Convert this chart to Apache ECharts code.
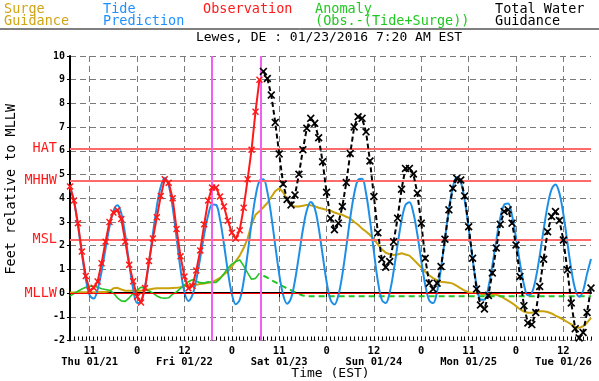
<!DOCTYPE html>
<html><head><meta charset="utf-8">
<script src="https://cdn.jsdelivr.net/npm/echarts@6/dist/echarts.min.js"></script>
<style>html,body{margin:0;padding:0;background:#fff}#c{width:599px;height:381px}</style>
</head><body><div id="c"></div>
<script>
// hours from the left edge of the plot (x = 0 .. 132)
const tideStart = 0;
const tide = [4.47,3.89,2.87,1.67,0.59,-0.10,-0.23,0.15,0.91,1.87,2.80,3.46,3.70,3.36,2.44,1.25,0.18,-0.42,-0.37,0.24,
  1.27,2.50,3.66,4.50,4.85,4.56,3.63,2.33,1.01,0.03,-0.33,-0.09,0.56,1.49,2.47,3.28,3.74,3.72,3.11,2.07,
  0.91,-0.03,-0.47,-0.28,0.50,1.66,2.96,4.07,4.73,4.80,4.27,3.26,2.01,0.80,-0.08,-0.45,-0.22,0.53,1.58,2.67,
  3.49,3.84,3.58,2.76,1.61,0.49,-0.28,-0.48,-0.09,0.78,1.95,3.17,4.18,4.78,4.82,4.21,3.09,1.74,0.50,-0.28,
  -0.42,0.03,0.93,2.04,3.06,3.72,3.83,3.38,2.48,1.37,0.35,-0.31,-0.42,0.06,1.04,2.29,3.53,4.46,4.89,4.69,
  3.91,2.73,1.44,0.35,-0.27,-0.28,0.24,1.16,2.22,3.16,3.73,3.78,3.27,2.34,1.27,0.37,-0.09,0.01,0.61,1.57,
  2.68,3.68,4.37,4.58,4.21,3.33,2.16,1.00,0.16,-0.15,0.10,0.81,1.44];
const surgeStart = 0;
const surge = [0.02,0.02,0.03,0.03,0.03,0.03,0.03,0.04,0.05,0.05,0.08,0.20,0.22,0.15,0.10,0.10,0.10,0.10,0.10,0.12,
  0.15,0.18,0.20,0.20,0.20,0.20,0.21,0.22,0.25,0.30,0.33,0.35,0.35,0.38,0.40,0.43,0.46,0.55,0.64,0.78,
  0.92,1.12,1.35,1.58,1.90,2.30,2.90,3.30,3.45,3.62,3.80,4.05,4.30,4.42,4.25,3.95,3.70,3.65,3.65,3.68,
  3.72,3.70,3.66,3.60,3.56,3.51,3.48,3.40,3.34,3.30,3.22,3.15,3.00,2.88,2.72,2.60,2.45,2.28,2.05,1.85,
  1.70,1.64,1.61,1.63,1.68,1.63,1.58,1.42,1.25,1.08,0.90,0.75,0.63,0.55,0.48,0.46,0.44,0.40,0.30,0.20,
  0.10,0.04,0.00,0.00,-0.03,-0.06,-0.07,-0.07,-0.07,-0.12,-0.22,-0.32,-0.42,-0.55,-0.68,-0.78,-0.83,-0.83,-0.78,-0.77,
  -0.77,-0.80,-0.86,-0.95,-1.03,-1.12,-1.22,-1.32,-1.43,-1.47,-1.40,-1.25,-1.05];
const obsStart = 0;
const observation = [4.50,3.90,2.95,1.75,0.72,0.10,0.22,0.49,1.26,2.17,3.00,3.40,3.50,3.12,2.17,1.19,0.50,-0.15,-0.40,0.21,
  1.35,2.30,3.20,4.10,4.80,4.65,4.00,2.70,1.55,0.70,0.20,0.30,0.95,1.80,2.90,3.90,4.45,4.45,4.07,3.65,
  3.05,2.55,2.30,2.65,3.60,4.80,6.05,7.65,9.00];
const anomalyStart = 0;
const anomaly = [-0.13,-0.02,0.08,0.17,0.25,0.28,0.30,0.25,0.18,0.15,0.12,0.00,-0.20,-0.33,-0.35,-0.20,-0.02,0.12,0.25,0.20,
  0.10,0.00,-0.12,-0.20,-0.22,-0.20,-0.05,0.05,0.20,0.35,0.48,0.56,0.50,0.44,0.42,0.48,0.45,0.45,0.60,0.82,
  1.05,1.22,1.33,1.40,1.15,0.85,0.58,0.62,0.84];
const anomalyForecast = [[49,0.73],[50,0.65],[51,0.55],[52,0.46],[53,0.37],[54,0.28],[55,0.20],[56,0.12],[57,0.04],[58,-0.04],[59,-0.10],[60,-0.13],[132,-0.13]];
const totalStart = 49;
const totalWater = [9.35,9.05,8.35,7.20,5.87,4.60,3.95,3.72,4.14,5.01,6.05,6.95,7.37,7.16,6.55,5.54,4.25,3.15,2.67,2.95,
  3.65,4.66,5.89,7.01,7.44,7.37,6.80,5.57,4.07,2.55,1.43,1.09,1.33,2.17,3.16,4.38,5.26,5.26,5.02,4.21,
  2.95,1.47,0.42,0.17,0.42,1.12,2.27,3.51,4.42,4.84,4.77,4.10,2.80,1.47,0.17,-0.50,-0.67,-0.10,0.85,1.90,
  2.90,3.44,3.51,2.95,2.03,0.70,-0.53,-1.26,-1.33,-0.82,0.28,1.43,2.59,3.23,3.44,3.06,2.24,0.98,-0.42,-1.50,
  -1.89,-1.66,-0.82,0.21];
const tickHours = [5,17,29,41,53,65,77,89,101,113,125];
const tickTimes = ['11','0','12','0','11','0','12','0','11','0','12'];
const tickDates = ['Thu 01/21','','Fri 01/22','','Sat 01/23','','Sun 01/24','','Mon 01/25','','Tue 01/26'];
const datumNames = ['HAT','MHHW','MSL','MLLW'];
const datumValues = [6.08,4.75,2.27,0];
const markerHours = [35.9,48.3];

const FONT = 'DejaVu Sans Mono';
const X_SYM = 'path://M0,1.5L1.5,0L5,3.5L8.5,0L10,1.5L6.5,5L10,8.5L8.5,10L5,6.5L1.5,10L0,8.5L3.5,5Z';
const hourly = (start, arr) => arr.map((v, i) => [start + i, v]);

const chart = echarts.init(document.getElementById('c'), null, {renderer: 'canvas'});
const legendItems = [
  {text: 'Surge\nGuidance', x: 4, color: '#d0a414'},
  {text: 'Tide\nPrediction', x: 103, color: '#1e90ff'},
  {text: 'Observation', x: 203, color: '#ff1a1a'},
  {text: 'Anomaly\n(Obs.-(Tide+Surge))', x: 315, color: '#22c822'},
  {text: 'Total Water\nGuidance', x: 495, color: '#000000'}
];
chart.setOption({
  animation: false,
  backgroundColor: '#fff',
  textStyle: {fontFamily: FONT},
  graphic: [
    ...legendItems.map(l => ({type: 'text', x: l.x, y: 3, silent: true,
      style: {text: l.text, fill: l.color, font: '13.5px "DejaVu Sans Mono"', lineHeight: 12}})),
    {type: 'line', silent: true, shape: {x1: 0, y1: 29, x2: 599, y2: 29}, style: {stroke: '#000', lineWidth: 1}},
    {type: 'text', x: 329, y: 31, silent: true,
      style: {text: 'Lewes, DE : 01/23/2016 7:20 AM EST', fill: '#000', font: '13px "DejaVu Sans Mono"', textAlign: 'center'}}
  ],
  grid: {left: 70, right: 8, top: 56, bottom: 40.5, containLabel: false, outerBoundsMode: 'none'},
  xAxis: [{
    type: 'value', min: 0, max: 132,
    axisLine: {lineStyle: {color: '#000', width: 2}},
    axisTick: {customValues: tickHours, length: 4, lineStyle: {color: '#000', width: 1}},
    axisLabel: {customValues: tickHours, color: '#000', fontFamily: FONT, fontWeight: 'bold', fontSize: 10.5, lineHeight: 11, margin: 5,
      formatter: v => { const i = tickHours.indexOf(v); if (i < 0) return ''; return tickDates[i] ? tickTimes[i] + '\n' + tickDates[i] : tickTimes[i]; }},
    splitLine: {show: true, lineStyle: {color: '#7a7a7a', type: [6, 4], width: 1}},
    name: 'Time (EST)', nameLocation: 'middle', nameGap: 27, nameMoveOverlap: false,
    nameTextStyle: {color: '#000', fontFamily: FONT, fontSize: 13}
  }, {
    type: 'value', min: 0, max: 132, interval: 1, position: 'bottom',
    axisLine: {show: false},
    axisTick: {inside: true, length: 4, lineStyle: {color: '#000', width: 1}},
    axisLabel: {show: false}, splitLine: {show: false}
  }],
  yAxis: {
    type: 'value', min: -2, max: 10, interval: 1,
    axisLine: {show: true, lineStyle: {color: '#000', width: 2}},
    axisTick: {show: true, length: 3, lineStyle: {color: '#000'}},
    axisLabel: {color: '#000', fontFamily: FONT, fontWeight: 'bold', fontSize: 10, margin: 5},
    splitLine: {show: true, lineStyle: {color: '#7a7a7a', type: [6, 4], width: 1}},
    name: 'Feet relative to MLLW', nameLocation: 'middle', nameGap: 52, nameMoveOverlap: false,
    nameTextStyle: {color: '#000', fontFamily: FONT, fontSize: 13.5, padding: [0, 0, 0, 18]}
  },
  series: [
    {name: 'Surge Guidance', type: 'line', data: hourly(surgeStart, surge), showSymbol: false,
      lineStyle: {color: '#c9a20c', width: 2}, itemStyle: {color: '#c9a20c'}, z: 2,
      markLine: {silent: true, symbol: ['none', 'none'], animation: false,
        label: {show: true, position: 'start', distance: 13, color: '#ff1a1a', fontFamily: FONT, fontSize: 13.5},
        data: datumValues.map((v, i) => ({yAxis: v, name: datumNames[i],
          label: {formatter: datumNames[i]},
          lineStyle: {color: i === 3 ? '#ff0000' : '#ff6b6b', width: i === 3 ? 1.2 : 2, type: 'solid'}}))}},
    {name: 'Anomaly', type: 'line', data: hourly(anomalyStart, anomaly), showSymbol: false,
      lineStyle: {color: '#22c322', width: 1.6}, itemStyle: {color: '#22c322'}, z: 3},
    {name: 'Anomaly forecast', type: 'line', data: anomalyForecast, showSymbol: false,
      lineStyle: {color: '#22c322', width: 2, type: [6, 4]}, itemStyle: {color: '#22c322'}, z: 3},
    {name: 'Tide Prediction', type: 'line', data: hourly(tideStart, tide), showSymbol: false, smooth: 0.35,
      lineStyle: {color: '#1e8fe6', width: 2}, itemStyle: {color: '#1e8fe6'}, z: 4,
      markLine: {silent: true, symbol: ['none', 'none'], animation: false, label: {show: false},
        lineStyle: {color: '#f060f0', width: 2, type: 'solid'},
        data: markerHours.map(h => ({xAxis: h}))}},
    {name: 'Observation', type: 'line', data: hourly(obsStart, observation), symbol: X_SYM, symbolSize: 7, showSymbol: true,
      lineStyle: {color: '#ff1a1a', width: 2}, itemStyle: {color: '#ff1a1a'}, z: 5},
    {name: 'Total Water Guidance', type: 'line', data: hourly(totalStart, totalWater), symbol: X_SYM, symbolSize: 8, showSymbol: true,
      lineStyle: {color: '#000', width: 2, type: [5, 3]}, itemStyle: {color: '#000'}, z: 6}
  ]
});
</script></body></html>
